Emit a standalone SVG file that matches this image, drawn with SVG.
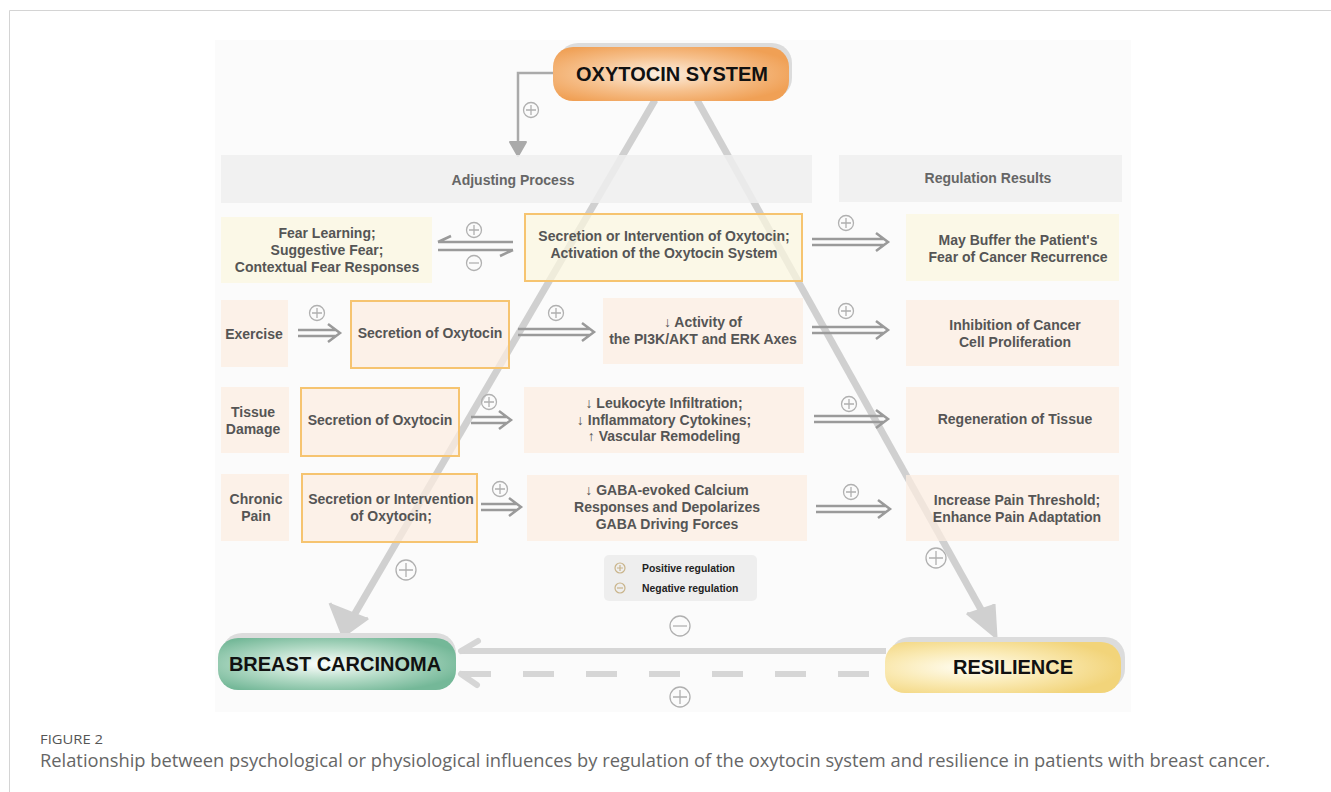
<svg xmlns="http://www.w3.org/2000/svg" width="1331" height="792" viewBox="0 0 1331 792">
<style>
.t{font-family:"Liberation Sans",Arial,sans-serif;font-weight:bold;font-size:14px;fill:#555;text-anchor:middle}
.h{font-family:"Liberation Sans",Arial,sans-serif;font-weight:bold;font-size:14px;fill:#666;text-anchor:middle}
.pill{font-family:"Liberation Sans",Arial,sans-serif;font-weight:bold;font-size:20px;fill:#111;text-anchor:middle}
.lg{font-family:"Liberation Sans",Arial,sans-serif;font-weight:bold;font-size:10.4px;fill:#222}
.cream{fill:#fbf6df;fill-opacity:0.72}
.peach{fill:#fcede0;fill-opacity:0.72}
.ob{stroke:#f6c470;stroke-width:2}
.hdr{fill:#eeeeee;fill-opacity:0.85}
.dbl{stroke:#9a9a9a;stroke-width:2.5;fill:none}
.big{stroke:#d0d0d0;stroke-width:7;fill:none}
.sym{stroke:#b0b0b0;stroke-width:1.3;fill:none}
.lsym{stroke:#c9b48a;stroke-width:1.2;fill:none}
.cap{font-family:"Open Sans","Liberation Sans",sans-serif}
</style>
<defs>
<g id="plus"><circle r="7.5" class="sym"/><path d="M-5 0H5M0 -5V5" class="sym"/></g>
<g id="minus"><circle r="7.5" class="sym"/><path d="M-5 0H5" class="sym"/></g>
<g id="bplus"><circle r="10" class="sym"/><path d="M-7 0H7M0 -7V7" class="sym"/></g>
<g id="bminus"><circle r="10" class="sym"/><path d="M-7 0H7" class="sym"/></g>
<radialGradient id="gO" cx="0.45" cy="0.5" r="0.6"><stop offset="0" stop-color="#fdf0e2"/><stop offset="0.55" stop-color="#f6c08c"/><stop offset="1" stop-color="#f0a055"/></radialGradient>
<radialGradient id="gG" cx="0.45" cy="0.5" r="0.6"><stop offset="0" stop-color="#ffffff"/><stop offset="0.5" stop-color="#b6dcc8"/><stop offset="1" stop-color="#74b898"/></radialGradient>
<radialGradient id="gY" cx="0.35" cy="0.5" r="0.65"><stop offset="0" stop-color="#fffdf2"/><stop offset="0.5" stop-color="#faeab4"/><stop offset="1" stop-color="#f2d47a"/></radialGradient>
</defs>
<rect width="1331" height="792" fill="#ffffff"/>
<path d="M9.5 792V10.5H1331" fill="none" stroke="#d4d4d4" stroke-width="1"/>
<rect x="215" y="40" width="916" height="672" fill="#fbfbfb"/>

<g id="connectors">
<path d="M553 73H518V145" fill="none" stroke="#aaaaaa" stroke-width="2.5"/>
<path d="M510 142L518 156L526 142Z" fill="#aaaaaa" stroke="#aaaaaa" stroke-width="2" stroke-linejoin="round"/>
<use href="#plus" x="531" y="110"/>
<path d="M655 100L350 622" class="big"/>
<path d="M330 603L343 636L368 618" fill="#d0d0d0" stroke="#d0d0d0" stroke-width="3" stroke-linejoin="round"/>
<path d="M697 100L988 622" class="big"/>
<path d="M967 613L996 637L994 604" fill="#d0d0d0" stroke="#d0d0d0" stroke-width="3" stroke-linejoin="round"/>
<use href="#bplus" x="406" y="570"/>
<use href="#bplus" x="936" y="558"/>
<path d="M886 651H460" stroke="#d6d6d6" stroke-width="6" fill="none"/>
<path d="M478 641L461 651" stroke="#d6d6d6" stroke-width="6" fill="none" stroke-linecap="round"/>
<path d="M869 674H462" stroke="#d6d6d6" stroke-width="6" fill="none" stroke-dasharray="31 32"/>
<path d="M477 685L461 674" stroke="#d6d6d6" stroke-width="6" fill="none" stroke-linecap="round"/>
<use href="#bminus" x="680" y="626"/>
<use href="#bplus" x="680" y="697"/>
<path d="M438 242H513M438 242L451 236" class="dbl"/>
<path d="M438 250H513M513 250L500 256" class="dbl"/>
<use href="#plus" x="474" y="230"/>
<use href="#minus" x="474" y="263"/>
<g class="dbl">
<path d="M812 239H884M812 245H884M876 233L888 242L876 251"/>
<path d="M298 330H336M298 336H336M328 324L340 333L328 342"/>
<path d="M518 329H590M518 335H590M582 323L594 332L582 341"/>
<path d="M812 327H884M812 333H884M876 321L888 330L876 339"/>
<path d="M471 417H507M471 423H507M499 411L511 420L499 429"/>
<path d="M814 416H884M814 422H884M876 410L888 419L876 428"/>
<path d="M481 504H517M481 510H517M509 498L521 507L509 516"/>
<path d="M816 506H886M816 512H886M878 500L890 509L878 518"/>
</g>
<use href="#plus" x="846" y="223"/>
<use href="#plus" x="317" y="313"/>
<use href="#plus" x="556" y="313"/>
<use href="#plus" x="846" y="311"/>
<use href="#plus" x="489" y="402"/>
<use href="#plus" x="849" y="404"/>
<use href="#plus" x="500" y="489"/>
<use href="#plus" x="851" y="492"/>
</g>

<g id="headers">
<rect x="221" y="155" width="591" height="48" class="hdr"/>
<text x="513" y="185" class="h">Adjusting Process</text>
<rect x="839" y="155" width="283" height="47" class="hdr"/>
<text x="988" y="183" class="h">Regulation Results</text>
</g>

<g id="row1">
<rect x="221" y="217" width="211" height="66" class="cream"/>
<text x="327" y="238" class="t">Fear Learning;</text>
<text x="327" y="255" class="t">Suggestive Fear;</text>
<text x="327" y="272" class="t">Contextual Fear Responses</text>
<rect x="525" y="214" width="277" height="67" class="cream ob"/>
<text x="664" y="241" class="t">Secretion or Intervention of Oxytocin;</text>
<text x="664" y="258" class="t">Activation of the Oxytocin System</text>
<rect x="906" y="214" width="213" height="67" class="cream"/>
<text x="1018" y="245" class="t">May Buffer the Patient's</text>
<text x="1018" y="262" class="t">Fear of Cancer Recurrence</text>
</g>

<g id="row2">
<rect x="221" y="300" width="67" height="67" class="peach"/>
<text x="254" y="339" class="t">Exercise</text>
<rect x="351" y="301" width="158" height="67" class="peach ob"/>
<text x="430" y="338" class="t">Secretion of Oxytocin</text>
<rect x="603" y="298" width="200" height="66" class="peach"/>
<text x="703" y="327" class="t">↓ Activity of</text>
<text x="703" y="344" class="t">the PI3K/AKT and ERK Axes</text>
<rect x="906" y="300" width="213" height="66" class="peach"/>
<text x="1015" y="330" class="t">Inhibition of Cancer</text>
<text x="1015" y="347" class="t">Cell Proliferation</text>
</g>

<g id="row3">
<rect x="221" y="387" width="68" height="66" class="peach"/>
<text x="253" y="417" class="t">Tissue</text>
<text x="253" y="434" class="t">Damage</text>
<rect x="301" y="388" width="158" height="68" class="peach ob"/>
<text x="380" y="425" class="t">Secretion of Oxytocin</text>
<rect x="524" y="387" width="280" height="66" class="peach"/>
<text x="664" y="408" class="t">↓ Leukocyte Infiltration;</text>
<text x="664" y="425" class="t">↓ Inflammatory Cytokines;</text>
<text x="664" y="441" class="t">↑ Vascular Remodeling</text>
<rect x="906" y="387" width="213" height="66" class="peach"/>
<text x="1015" y="424" class="t">Regeneration of Tissue</text>
</g>

<g id="row4">
<rect x="221" y="474" width="68" height="67" class="peach"/>
<text x="256" y="504" class="t">Chronic</text>
<text x="256" y="521" class="t">Pain</text>
<rect x="302" y="474" width="175" height="68" class="peach ob"/>
<text x="391" y="504" class="t">Secretion or Intervention</text>
<text x="391" y="521" class="t">of Oxytocin;</text>
<rect x="527" y="475" width="280" height="66" class="peach"/>
<text x="667" y="495" class="t">↓ GABA-evoked Calcium</text>
<text x="667" y="512" class="t">Responses and Depolarizes</text>
<text x="667" y="529" class="t">GABA Driving Forces</text>
<rect x="906" y="475" width="213" height="66" class="peach"/>
<text x="1017" y="505" class="t">Increase Pain Threshold;</text>
<text x="1017" y="522" class="t">Enhance Pain Adaptation</text>
</g>

<g id="legend">
<rect x="604" y="555" width="153" height="46" rx="5" fill="#eeeeee"/>
<g transform="translate(620,568)"><circle r="5" class="lsym"/><path d="M-3 0H3M0 -3V3" class="lsym"/></g>
<text x="642" y="572" class="lg">Positive regulation</text>
<g transform="translate(620,588)"><circle r="5" class="lsym"/><path d="M-3 0H3" class="lsym"/></g>
<text x="642" y="592" class="lg">Negative regulation</text>
</g>

<g id="oxytocin">
<rect x="558" y="43" width="234" height="55" rx="20" fill="#dcdcdc"/>
<rect x="553" y="47" width="236" height="54" rx="20" fill="url(#gO)"/>
<text x="672" y="81" class="pill">OXYTOCIN SYSTEM</text>
</g>

<g id="breast">
<rect x="222" y="633" width="234" height="52" rx="20" fill="#dcdcdc"/>
<rect x="218" y="638" width="238" height="52" rx="20" fill="url(#gG)"/>
<text x="335" y="671" class="pill">BREAST CARCINOMA</text>
</g>

<g id="resilience">
<rect x="890" y="637" width="235" height="52" rx="20" fill="#dcdcdc"/>
<rect x="885" y="642" width="236" height="51" rx="20" fill="url(#gY)"/>
<text x="1013" y="674" class="pill">RESILIENCE</text>
</g>

<g id="caption">
<text x="40" y="744" class="cap" font-size="13" fill="#555" textLength="63" lengthAdjust="spacingAndGlyphs">FIGURE 2</text>
<text x="40" y="767" class="cap" font-size="18" fill="#666" textLength="1230" lengthAdjust="spacingAndGlyphs">Relationship between psychological or physiological influences by regulation of the oxytocin system and resilience in patients with breast cancer.</text>
</g>
</svg>
